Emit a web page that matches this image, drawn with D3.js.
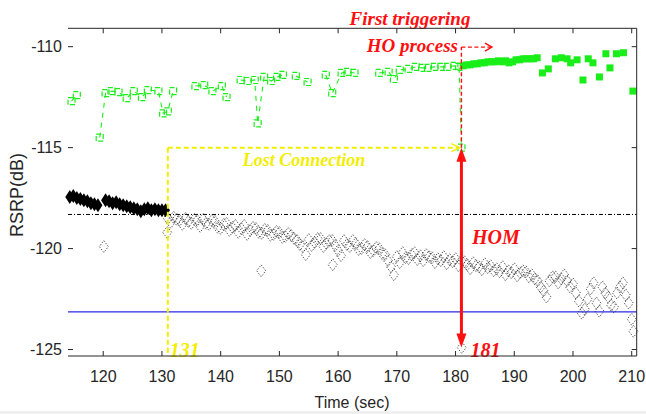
<!DOCTYPE html>
<html>
<head>
<meta charset="utf-8">
<script src="https://cdn.jsdelivr.net/npm/d3@7"></script>
<style>
  html, body { margin: 0; padding: 0; background: #fff; }
  svg { display: block; }
</style>
</head>
<body>
<svg id="chart" width="646" height="414"></svg>
<script>
// ---- data -------------------------------------------------------------
const timeTicks = [120, 130, 140, 150, 160, 170, 180, 190, 200, 210];
const rsrpTicks = [-125, -120, -115, -110];

// serving-cell measurement before handover (hollow green squares)
const greenOpenT = [114.6, 115.5, 119.4, 120.4, 121.4, 122.6, 124.0, 125.2, 126.6, 127.6, 129.4, 130.2, 131.0, 131.9,
  135.7, 137.2, 138.6, 140.2, 141.0, 143.4, 144.6, 145.8, 146.3, 147.4, 148.6, 149.6, 150.6, 152.8, 154.8, 157.9,
  159.0, 160.6, 161.6, 162.8, 167.0, 168.6, 169.5, 170.5, 172.0, 173.2, 174.3, 175.3, 176.4, 177.6, 178.6, 179.8,
  180.6, 181.0];
const greenOpenV = [-112.7, -112.4, -114.5, -112.3, -112.2, -112.25, -112.55, -112.2, -112.5, -112.15, -112.2, -113.3,
  -113.2, -112.2, -111.95, -111.9, -112.2, -111.95, -112.5, -111.65, -111.7, -111.65, -113.8, -111.5, -111.7, -111.5,
  -111.4, -111.45, -111.75, -111.4, -112.3, -111.3, -111.25, -111.3, -111.3, -111.25, -111.6, -111.15, -111.1, -111.0,
  -111.05, -111.05, -111.0, -111.0, -111.0, -110.95, -111.0, -115.0];

// target cell after handover (filled green squares)
const greenFillT = [181.3, 181.9, 182.5, 183.1, 183.7, 184.3, 184.9, 185.5, 186.1, 186.7, 187.3, 187.9, 188.5, 189.1,
  189.7, 190.3, 190.9, 191.5, 192.1, 192.7, 193.3, 193.9, 194.8, 195.8, 197.0, 198.0, 199.0, 199.6, 200.7, 201.7,
  202.6, 203.4, 204.5, 205.6, 206.3, 207.4, 208.6, 210.2];
const greenFillV = [-110.95, -110.9, -110.9, -110.85, -110.85, -110.8, -110.8, -110.75, -110.75, -110.75, -110.7,
  -110.75, -110.7, -110.8, -110.75, -110.65, -110.65, -110.6, -110.6, -110.6, -110.6, -110.55, -111.3, -111.1, -110.6,
  -110.55, -110.6, -110.8, -110.65, -111.65, -110.6, -110.8, -111.5, -110.35, -111.05, -110.35, -110.3, -112.2];

// connected UE (filled black diamonds)
const blackFillT = [114.3, 114.9, 115.5, 116.1, 116.7, 117.3, 117.9, 118.5, 119.1, 120.4, 121.0, 121.6, 122.2, 122.8,
  123.4, 124.0, 124.6, 125.2, 125.8, 126.4, 127.0, 127.6, 128.2, 128.8, 129.4, 130.0, 130.6];
const blackFillV = [-117.45, -117.4, -117.5, -117.55, -117.6, -117.65, -117.75, -117.8, -117.85, -117.6, -117.65,
  -117.75, -117.7, -117.8, -117.85, -117.9, -117.95, -118.0, -118.05, -118.15, -118.05, -118.0, -118.1, -118.05,
  -118.1, -118.1, -118.1];

// disconnected UE (hollow dotted diamonds), whole-second samples
const blackOpenT = [120.1, 130.9, 131, 132, 133, 134, 135, 136, 137, 138, 139, 140, 141, 142, 143, 144, 145, 146, 146.9,
  147, 148, 149, 150, 151, 152, 153, 154, 155, 156, 157, 158, 159, 159.1, 160, 161, 162, 163, 164, 165, 166, 167, 168,
  169, 170, 171, 172, 173, 174, 175, 176, 177, 178, 179, 180, 181, 181.05, 182, 183, 184, 185, 186, 187, 188, 189, 190,
  191, 192, 193, 194, 194.5, 195, 196, 197, 198, 199, 200, 201, 202, 203, 204, 205, 206, 207, 208, 209, 210, 210.3];
const blackOpenV = [-119.9, -119.2, -118.5, -118.45, -118.6, -118.5, -118.75, -118.6, -118.55, -118.8, -118.65, -119.0,
  -118.75, -118.95, -119.2, -118.85, -119.1, -119.0, -121.1, -119.25, -119.1, -119.3, -119.2, -119.4, -119.35, -119.6,
  -119.9, -119.55, -119.7, -119.5, -119.75, -119.6, -120.8, -120.1, -119.6, -119.9, -119.75, -120.0, -119.9, -120.1,
  -120.0, -120.3, -120.9, -120.4, -120.2, -120.5, -120.2, -120.35, -120.3, -120.45, -120.5, -120.4, -120.55, -120.5,
  -120.6, -124.9, -120.8, -120.7, -120.9, -120.75, -120.85, -121.0, -120.9, -121.1, -121.0, -121.2, -121.15, -121.3,
  -121.6, -121.9, -122.1, -121.6, -121.4, -121.5, -121.6, -121.75, -122.6, -123.0, -122.0, -122.7, -121.9, -122.4,
  -122.9, -121.9, -122.3, -123.5, -124.1];

// disconnected UE, half-second samples
const blackHalfT = [131.5, 132.5, 133.5, 134.5, 135.5, 136.5, 137.5, 138.5, 139.5, 140.5, 141.5, 142.5, 143.5, 144.5,
  145.5, 146.5, 147.5, 148.5, 149.5, 150.5, 151.5, 152.5, 153.5, 154.5, 155.5, 156.5, 157.5, 158.5, 159.5, 160.5,
  161.5, 162.5, 163.5, 164.5, 165.5, 166.5, 167.5, 168.5, 169.5, 170.5, 171.5, 172.5, 173.5, 174.5, 175.5, 176.5,
  177.5, 178.5, 179.5, 180.5, 181.5, 182.5, 183.5, 184.5, 185.5, 186.5, 187.5, 188.5, 189.5, 190.5, 191.5, 192.5,
  193.5, 195.5, 196.5, 197.5, 198.5, 199.5, 200.5, 201.5, 202.5, 203.5, 204.5, 205.5, 206.5, 207.5, 208.5, 209.5];
const blackHalfV = [-118.7, -118.55, -118.8, -118.65, -118.55, -118.9, -118.75, -118.6, -118.95, -118.8, -119.1,
  -118.85, -119.0, -119.3, -118.95, -119.2, -119.05, -119.35, -119.15, -119.45, -119.25, -119.5, -119.8, -120.3,
  -119.85, -119.5, -119.9, -119.6, -119.85, -120.35, -119.8, -119.6, -120.05, -119.8, -120.2, -119.95, -120.25,
  -120.6, -121.3, -120.7, -120.45, -120.3, -120.55, -120.6, -120.4, -120.7, -120.6, -120.75, -120.65, -120.85,
  -120.65, -121.0, -120.85, -121.05, -120.95, -121.1, -121.15, -121.3, -121.2, -121.35, -121.1, -121.4, -121.5,
  -122.4, -121.4, -121.7, -121.3, -121.9, -122.2, -123.2, -122.5, -121.7, -123.1, -122.2, -122.8, -122.2, -121.7,
  -122.7];

// reference levels
const upperLevel = -118.31;
const lowerLevel = -123.13;

// events
const lostTime = 131;
const hoTime = 181;
const eventLevel = -115;
const homBottom = -124.9;

// ---- layout -----------------------------------------------------------
const svg = d3.select("#chart");
const plotL = 68, plotR = 636.7, plotT = 28.3, plotB = 356;
const x = d3.scaleLinear().domain([114, 210.85]).range([plotL, plotR]);
const y = d3.scaleLinear().domain([-125.32, -109.09]).range([plotB, plotT]);

const axisColor = "#262626";
const green = "#19ee19";
const yellow = "#f2ee00";
const red = "#ff0f0f";

svg.append("rect").attr("x", 0).attr("y", 0).attr("width", 646).attr("height", 414).attr("fill", "#fff");
svg.append("rect").attr("x", 0).attr("y", 411).attr("width", 646).attr("height", 3).attr("fill", "#efefef");

const zip = (a, b) => a.map((d, i) => [d, b[i]]);
const diamond = (w, h) => `M0,${-h}L${w},0L0,${h}L${-w},0Z`;

// reference lines
svg.append("line").attr("x1", x(114)).attr("x2", plotR).attr("y1", y(upperLevel)).attr("y2", y(upperLevel))
  .attr("stroke", "#000").attr("stroke-width", 1).attr("stroke-dasharray", "4,2,1,2");
svg.append("line").attr("x1", x(114)).attr("x2", plotR).attr("y1", y(lowerLevel)).attr("y2", y(lowerLevel))
  .attr("stroke", "#2a2ae6").attr("stroke-width", 1.2);

// hollow green squares; dashed connection only between samples less than 2 s apart
const greenOpen = zip(greenOpenT, greenOpenV);
const runs = [];
greenOpen.forEach((d, i) => {
  if (i === 0 || d[0] - greenOpen[i - 1][0] > 2) runs.push([]);
  runs[runs.length - 1].push(d);
});
svg.append("g").selectAll("path").data(runs.filter(r => r.length > 1)).join("path")
  .attr("d", d3.line().x(d => x(d[0])).y(d => y(d[1])))
  .attr("fill", "none").attr("stroke", green).attr("stroke-width", 1.1).attr("stroke-dasharray", "5,5");
svg.append("g").selectAll("rect").data(greenOpen).join("rect")
  .attr("x", d => x(d[0]) - 3.5).attr("y", d => y(d[1]) - 3.5).attr("width", 7).attr("height", 7)
  .attr("fill", "none").attr("stroke", green).attr("stroke-width", 1.2).attr("stroke-dasharray", "5,2");

// filled green squares
svg.append("g").selectAll("rect").data(zip(greenFillT, greenFillV)).join("rect")
  .attr("x", d => x(d[0]) - 3.5).attr("y", d => y(d[1]) - 3.5).attr("width", 7).attr("height", 7)
  .attr("fill", green);

// hollow dotted diamonds
svg.append("g").selectAll("path").data(zip(blackOpenT, blackOpenV).concat(zip(blackHalfT, blackHalfV))).join("path")
  .attr("transform", d => `translate(${x(d[0])},${y(d[1])})`)
  .attr("d", diamond(4.5, 6))
  .attr("fill", "none").attr("stroke", "#333").attr("stroke-width", 0.8).attr("stroke-dasharray", "1.5,1.5");

// filled black diamonds
svg.append("g").selectAll("path").data(zip(blackFillT, blackFillV)).join("path")
  .attr("transform", d => `translate(${x(d[0])},${y(d[1])})`)
  .attr("d", diamond(4.5, 7))
  .attr("fill", "#000");

// ---- annotations ------------------------------------------------------
// lost connection: yellow dashed guides
svg.append("line").attr("x1", x(lostTime)).attr("x2", x(lostTime)).attr("y1", y(eventLevel)).attr("y2", plotB)
  .attr("stroke", yellow).attr("stroke-width", 2).attr("stroke-dasharray", "5,3");
svg.append("line").attr("x1", x(lostTime)).attr("x2", x(hoTime) - 3).attr("y1", y(eventLevel)).attr("y2", y(eventLevel))
  .attr("stroke", yellow).attr("stroke-width", 2).attr("stroke-dasharray", "5,3");
svg.append("path")
  .attr("d", `M${x(hoTime) - 10},${y(eventLevel) - 4}L${x(hoTime) - 2},${y(eventLevel)}L${x(hoTime) - 10},${y(eventLevel) + 4}`)
  .attr("fill", "none").attr("stroke", yellow).attr("stroke-width", 1.6);

// first triggering: red dashed guide
const hoTop = -110.02;
svg.append("line").attr("x1", x(hoTime)).attr("x2", x(hoTime)).attr("y1", y(eventLevel)).attr("y2", y(hoTop))
  .attr("stroke", red).attr("stroke-width", 1.4).attr("stroke-dasharray", "4,2.5");
svg.append("line").attr("x1", x(hoTime)).attr("x2", x(186.2)).attr("y1", y(hoTop)).attr("y2", y(hoTop))
  .attr("stroke", red).attr("stroke-width", 1.4).attr("stroke-dasharray", "4,2.5");
svg.append("path")
  .attr("d", `M${x(186.2) - 7},${y(hoTop) - 4}L${x(186.2)},${y(hoTop)}L${x(186.2) - 7},${y(hoTop) + 4}`)
  .attr("fill", "none").attr("stroke", red).attr("stroke-width", 1.4);

// HOM: solid red double arrow
const arrowX = x(hoTime), arrowY1 = y(eventLevel), arrowY2 = y(homBottom);
svg.append("line").attr("x1", arrowX).attr("x2", arrowX).attr("y1", arrowY1 + 10).attr("y2", arrowY2 - 10)
  .attr("stroke", red).attr("stroke-width", 3);
svg.append("path").attr("d", `M${arrowX},${arrowY1}L${arrowX - 5},${arrowY1 + 14}L${arrowX + 5},${arrowY1 + 14}Z`).attr("fill", red);
svg.append("path").attr("d", `M${arrowX},${arrowY2}L${arrowX - 5},${arrowY2 - 14}L${arrowX + 5},${arrowY2 - 14}Z`).attr("fill", red);

const serif = "'Liberation Serif', 'Times New Roman', serif";
function note(txt, tx, ty, color, size, anchor) {
  svg.append("text").attr("x", tx).attr("y", ty).text(txt)
    .attr("fill", color).attr("font-family", serif).attr("font-style", "italic").attr("font-weight", "bold")
    .attr("font-size", size).attr("text-anchor", anchor || "start");
}
note("First triggering", 410, 25, red, 19, "middle");
note("HO process", 458, 52, red, 19, "end");
note("Lost Connection", 304, 166, yellow, 18, "middle");
note("HOM", 472, 244, red, 20);
note(String(lostTime), x(lostTime) + 2, 357, yellow, 20);
note(String(hoTime), x(hoTime) + 9, 357, red, 20);

// ---- axes -------------------------------------------------------------
const frame = svg.append("g").attr("stroke", axisColor).attr("stroke-width", 1);
frame.append("line").attr("x1", plotL).attr("x2", plotR).attr("y1", plotT).attr("y2", plotT);
frame.append("line").attr("x1", plotL).attr("x2", plotR).attr("y1", plotB).attr("y2", plotB);
frame.append("line").attr("x1", plotR).attr("x2", plotR).attr("y1", plotT).attr("y2", plotB);

timeTicks.forEach(t => {
  frame.append("line").attr("x1", x(t)).attr("x2", x(t)).attr("y1", plotB).attr("y2", plotB - 5);
  frame.append("line").attr("x1", x(t)).attr("x2", x(t)).attr("y1", plotT).attr("y2", plotT + 5);
});
rsrpTicks.forEach(v => {
  frame.append("line").attr("x1", plotL).attr("x2", plotL + 5).attr("y1", y(v)).attr("y2", y(v));
  frame.append("line").attr("x1", plotR).attr("x2", plotR - 5).attr("y1", y(v)).attr("y2", y(v));
});

const sans = "'Liberation Sans', Arial, Helvetica, sans-serif";
svg.append("g").selectAll("text").data(timeTicks).join("text")
  .attr("x", d => x(d)).attr("y", 382).attr("text-anchor", "middle")
  .attr("font-family", sans).attr("font-size", 16).attr("fill", axisColor).text(d => d);
svg.append("g").selectAll("text").data(rsrpTicks).join("text")
  .attr("x", 62).attr("y", d => y(d)).attr("dy", "0.36em").attr("text-anchor", "end")
  .attr("font-family", sans).attr("font-size", 16).attr("fill", axisColor).text(d => d);

svg.append("text").attr("x", 352).attr("y", 408).attr("text-anchor", "middle")
  .attr("font-family", sans).attr("font-size", 16).attr("fill", axisColor).text("Time (sec)");
svg.append("text").attr("transform", "translate(23,195) rotate(-90)").attr("text-anchor", "middle")
  .attr("font-family", sans).attr("font-size", 18).attr("fill", axisColor).text("RSRP(dB)");
</script>
</body>
</html>
